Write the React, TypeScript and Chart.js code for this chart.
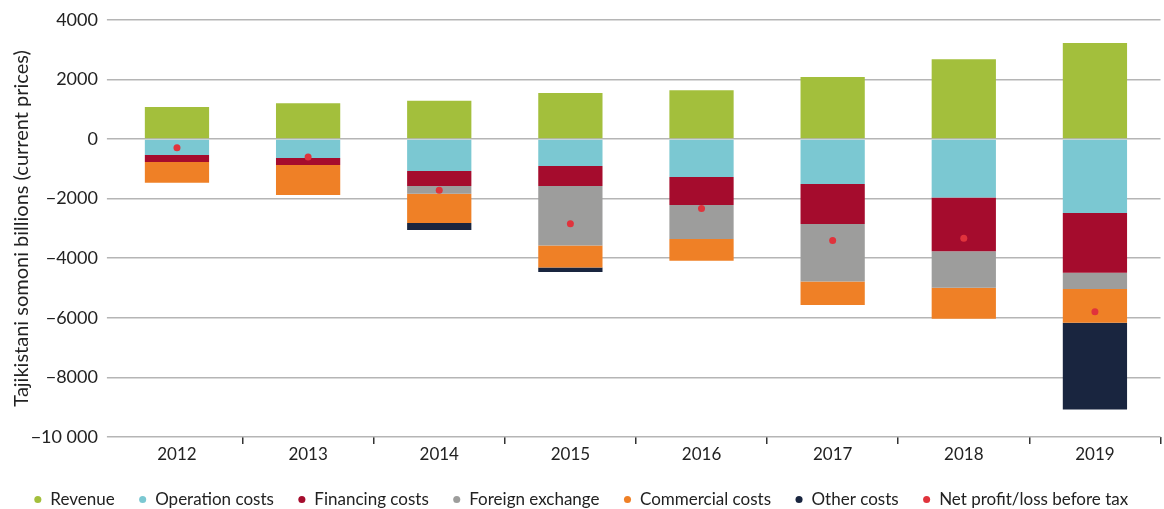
import React, { useEffect, useRef } from "react";
import { Chart, registerables } from "chart.js";

Chart.register(...registerables);

const years = ["2012", "2013", "2014", "2015", "2016", "2017", "2018", "2019"];
const revenue = [1070, 1200, 1280, 1540, 1640, 2080, 2680, 3220];
const operationCosts = [-540, -640, -1075, -905, -1275, -1510, -1960, -2480];
const financingCosts = [-235, -235, -500, -670, -940, -1340, -1810, -2010];
const foreignExchange = [0, 0, -260, -2000, -1140, -1935, -1220, -540];
const commercialCosts = [-695, -1000, -985, -740, -730, -785, -1040, -1140];
const otherCosts = [0, 0, -235, -145, 0, 0, 0, -2910];
const netProfit = [-290, -600, -1720, -2840, -2330, -3410, -3330, -5800];

const FONT = "Lato, 'Open Sans', sans-serif";

function fmt(v: number): string {
  const a = Math.abs(v);
  let s = String(a);
  if (a >= 10000) s = s.replace(/\B(?=(\d{3})+(?!\d))/g, " ");
  return (v < 0 ? "\u2212" : "") + s;
}

const legendHeightFix = {
  id: "legendHeightFix",
  beforeLayout(chart: any) {
    const lg = chart.legend;
    if (lg && !lg.__patched) {
      const orig = lg.fit;
      lg.fit = function (this: any) {
        orig.call(this);
        this.height = 42;
      };
      lg.__patched = true;
    }
  },
};

export default function App() {
  const ref = useRef<HTMLCanvasElement | null>(null);
  useEffect(() => {
    document.body.style.margin = "0";
    if (!ref.current) return;
    const bar = (label: string, data: number[], color: string) => ({
      type: "bar" as const,
      label,
      data,
      backgroundColor: color,
      borderWidth: 0,
      categoryPercentage: 1,
      barPercentage: 0.49,
    });
    const chart = new Chart(ref.current, {
      type: "bar",
      plugins: [legendHeightFix],
      data: {
        labels: years,
        datasets: [
          bar("Revenue", revenue, "#A3BF3C"),
          bar("Operation costs", operationCosts, "#7BC8D2"),
          bar("Financing costs", financingCosts, "#A50C2D"),
          bar("Foreign exchange", foreignExchange, "#9D9D9C"),
          bar("Commercial costs", commercialCosts, "#EF8026"),
          bar("Other costs", otherCosts, "#19253F"),
          {
            type: "line" as const,
            label: "Net profit/loss before tax",
            data: netProfit,
            showLine: false,
            pointRadius: 3.5,
            pointHoverRadius: 3.5,
            pointBackgroundColor: "#E0333C",
            pointBorderWidth: 0,
            backgroundColor: "#E0333C",
            borderColor: "#E0333C",
            borderWidth: 0,
            order: -1,
            stack: "net",
          } as any,
        ],
      },
      options: {
        animation: false,
        responsive: false,
        maintainAspectRatio: false,
        layout: { padding: { top: 19, right: 2, left: 0, bottom: 0 } },
        plugins: {
          tooltip: { enabled: false },
          legend: {
            position: "bottom",
            labels: {
              usePointStyle: true,
              pointStyle: "circle",
              boxWidth: 8,
              boxHeight: 5,
              padding: 24,
              color: "#222",
              font: { family: FONT, size: 17 },
              sort: (a: any, b: any) => a.datasetIndex - b.datasetIndex,
            },
          },
        },
        scales: {
          x: {
            stacked: true,
            afterFit: (s: any) => {
              s.height = 30;
            },
            grid: {
              display: true,
              drawOnChartArea: false,
              drawTicks: true,
              tickLength: 7,
              offset: true,
              color: (ctx: any) => (ctx.index === 0 ? "rgba(0,0,0,0)" : "#333"),
              lineWidth: 1.5,
            },
            border: { display: false },
            ticks: {
              color: "#222",
              font: { family: FONT, size: 17 },
              padding: 0,
            },
          },
          y: {
            stacked: true,
            min: -10000,
            max: 4000,
            afterFit: (s: any) => {
              s.width = 111.4;
            },
            border: { display: false },
            grid: {
              color: "#B5B5B5",
              lineWidth: 1.5,
              drawTicks: true,
              tickLength: 4.5,
            },
            ticks: {
              stepSize: 2000,
              color: "#222",
              font: { family: FONT, size: 18 },
              padding: 9,
              callback: (v: any) => fmt(Number(v)),
            },
            title: {
              display: true,
              text: "Tajikistani somoni billions (current prices)",
              color: "#222",
              font: { family: FONT, size: 20 },
              padding: { top: 10, bottom: 0 },
            },
          },
        },
      },
    });
    return () => chart.destroy();
  }, []);
  return (
    <div style={{ width: 1164, height: 509, position: "relative" }}>
      <canvas ref={ref} width={1164} height={509} style={{ width: 1164, height: 509 }} />
    </div>
  );
}
